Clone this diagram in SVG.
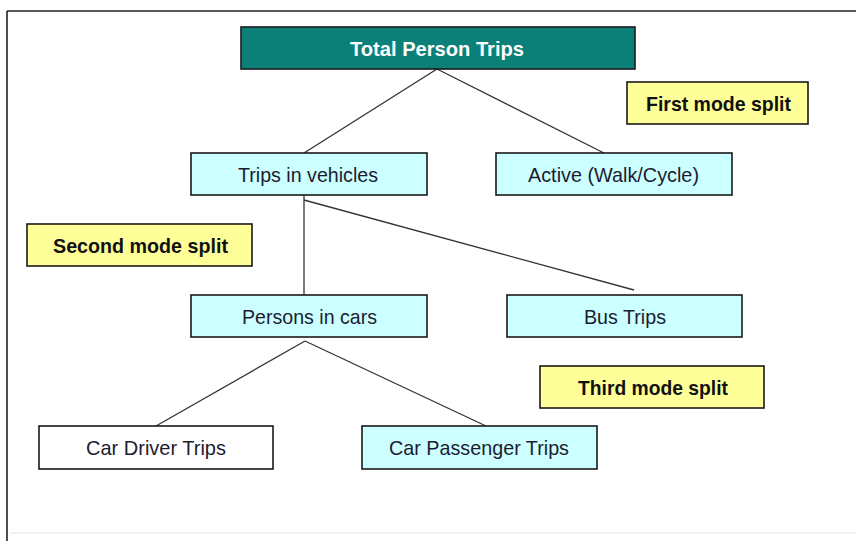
<svg xmlns="http://www.w3.org/2000/svg" width="856" height="541" viewBox="0 0 856 541">
<style>
.box{stroke:#1a1a1a;stroke-width:1.6}
.cyan{fill:#ccffff}
.yel{fill:#ffff99}
.wht{fill:#ffffff}
.t{font-family:"Liberation Sans",Arial,sans-serif;font-size:21px;fill:#1c1c30}
.b{font-weight:bold;fill:#111111}
.w{fill:#ffffff}
.conn line{stroke:#333;stroke-width:1.3}
</style>
<rect width="856" height="541" fill="#ffffff"/>
<g id="frame">
<line x1="7" y1="11" x2="856" y2="11" stroke="#222" stroke-width="1.6"/>
<line x1="7" y1="11" x2="7" y2="541" stroke="#222" stroke-width="1.6"/>
<line x1="10" y1="533" x2="856" y2="533" stroke="#e4e4e4" stroke-width="1"/>
</g>
<g id="connectors" class="conn">
<line x1="437" y1="69" x2="304" y2="153"/>
<line x1="437" y1="69" x2="604" y2="153"/>
<line x1="304" y1="195" x2="304" y2="295"/>
<line x1="304" y1="200" x2="634" y2="290"/>
<line x1="305" y1="341" x2="156" y2="426"/>
<line x1="305" y1="341" x2="486" y2="426"/>
</g>
<g id="total">
<rect class="box" x="241" y="27" width="394" height="42" fill="#0b8078"/>
<text class="t b w" x="350" y="56" textLength="174" lengthAdjust="spacingAndGlyphs">Total Person Trips</text>
</g>
<g id="first-split">
<rect class="box yel" x="627" y="82" width="181" height="42"/>
<text class="t b" x="646" y="111" textLength="145" lengthAdjust="spacingAndGlyphs">First mode split</text>
</g>
<g id="vehicles">
<rect class="box cyan" x="191" y="153" width="236" height="42"/>
<text class="t" x="238" y="182" textLength="140" lengthAdjust="spacingAndGlyphs">Trips in vehicles</text>
</g>
<g id="active">
<rect class="box cyan" x="496" y="153" width="236" height="42"/>
<text class="t" x="528" y="182" textLength="171" lengthAdjust="spacingAndGlyphs">Active (Walk/Cycle)</text>
</g>
<g id="second-split">
<rect class="box yel" x="27" y="224" width="225" height="42"/>
<text class="t b" x="53" y="253" textLength="175" lengthAdjust="spacingAndGlyphs">Second mode split</text>
</g>
<g id="persons">
<rect class="box cyan" x="191" y="295" width="236" height="42"/>
<text class="t" x="242" y="324" textLength="135" lengthAdjust="spacingAndGlyphs">Persons in cars</text>
</g>
<g id="bus">
<rect class="box cyan" x="507" y="295" width="235" height="42"/>
<text class="t" x="584" y="324" textLength="82" lengthAdjust="spacingAndGlyphs">Bus Trips</text>
</g>
<g id="third-split">
<rect class="box yel" x="540" y="366" width="224" height="42"/>
<text class="t b" x="578" y="395" textLength="150" lengthAdjust="spacingAndGlyphs">Third mode split</text>
</g>
<g id="driver">
<rect class="box wht" x="39" y="426" width="234" height="43"/>
<text class="t" x="86" y="455" textLength="140" lengthAdjust="spacingAndGlyphs">Car Driver Trips</text>
</g>
<g id="passenger">
<rect class="box cyan" x="362" y="426" width="235" height="43"/>
<text class="t" x="389" y="455" textLength="180" lengthAdjust="spacingAndGlyphs">Car Passenger Trips</text>
</g>
</svg>
